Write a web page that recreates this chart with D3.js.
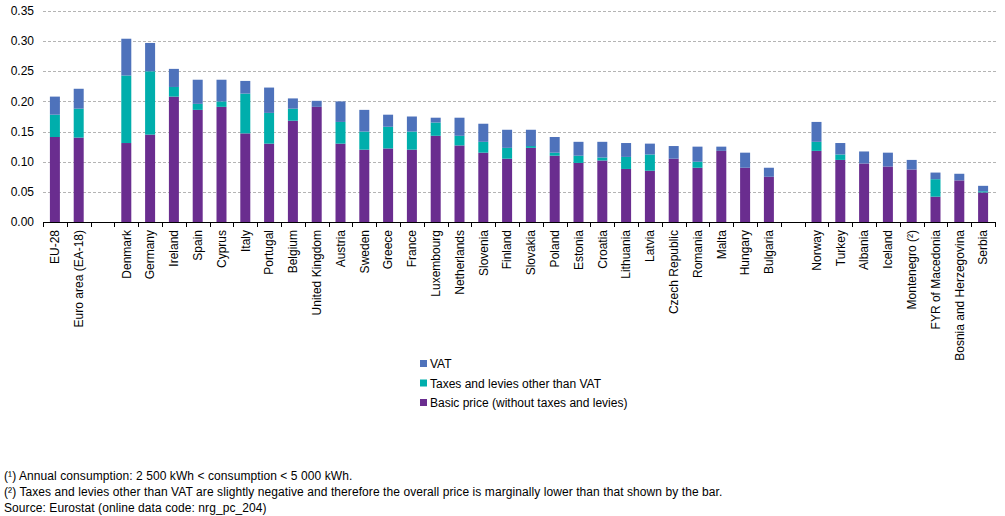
<!DOCTYPE html>
<html>
<head>
<meta charset="utf-8">
<script src="https://cdn.jsdelivr.net/npm/d3@7"></script>
<style>
  body { margin: 0; background: #fff; }
  text { font-family: "Liberation Sans", Arial, sans-serif; font-size: 12px; fill: #000; }
  .foot { letter-spacing: 0.08px; }
</style>
</head>
<body>
<svg id="chart" width="1005" height="516"></svg>
<script>
// countries, with null for the empty slots between groups
const countries = ["EU-28", "Euro area (EA-18)", null,
  "Denmark", "Germany", "Ireland", "Spain", "Cyprus", "Italy", "Portugal", "Belgium",
  "United Kingdom", "Austria", "Sweden", "Greece", "France", "Luxembourg", "Netherlands",
  "Slovenia", "Finland", "Slovakia", "Poland", "Estonia", "Croatia", "Lithuania", "Latvia",
  "Czech Republic", "Romania", "Malta", "Hungary", "Bulgaria", null,
  "Norway", "Turkey", "Albania", "Iceland", "Montenegro (\u00b2)", "FYR of Macedonia",
  "Bosnia and Herzegovina", "Serbia"];

const basicPrice = [0.141, 0.140, null,
  0.131, 0.145, 0.208, 0.186, 0.191, 0.147, 0.130, 0.168,
  0.191, 0.130, 0.120, 0.122, 0.120, 0.143, 0.127,
  0.115, 0.105, 0.123, 0.110, 0.098, 0.102, 0.088, 0.085,
  0.105, 0.090, 0.118, 0.090, 0.075, null,
  0.118, 0.103, 0.097, 0.092, 0.087, 0.042, 0.069, 0.049];

const otherTaxes = [0.037, 0.048, null,
  0.112, 0.105, 0.016, 0.010, 0.009, 0.066, 0.051, 0.020,
  0.000, 0.036, 0.030, 0.036, 0.030, 0.022, 0.016,
  0.018, 0.018, 0.003, 0.005, 0.012, 0.005, 0.020, 0.027,
  0.000, 0.010, 0.000, 0.000, 0.000, null,
  0.015, 0.009, 0.000, 0.000, 0.000, 0.029, 0.000, 0.002];

const vat = [0.030, 0.033, null,
  0.061, 0.047, 0.030, 0.040, 0.036, 0.021, 0.042, 0.017,
  0.010, 0.034, 0.036, 0.020, 0.025, 0.008, 0.030,
  0.030, 0.030, 0.027, 0.026, 0.023, 0.026, 0.023, 0.018,
  0.021, 0.025, 0.007, 0.025, 0.015, null,
  0.033, 0.019, 0.020, 0.023, 0.016, 0.011, 0.011, 0.009];

const yTicks = [0, 0.05, 0.10, 0.15, 0.20, 0.25, 0.30, 0.35];

const seriesNames = ["Basic price (without taxes and levies)", "Taxes and levies other than VAT", "VAT"];
const seriesColors = ["#6a2d8f", "#00aeac", "#4e72bb"];

const footnotes = [
  "(\u00b9) Annual consumption: 2 500 kWh < consumption < 5 000 kWh.",
  "(\u00b2) Taxes and levies other than VAT are slightly negative and therefore the overall price is marginally lower than that shown by the bar.",
  "Source: Eurostat (online data code: nrg_pc_204)"
];

let svg = d3.select("#chart");

let plotLeft = 43, plotRight = 995, plotTop = 11, plotBottom = 222;

let rows = countries.map(function(c, i) {
  return { idx: i, name: c, basic: basicPrice[i] || 0, taxes: otherTaxes[i] || 0, vat: vat[i] || 0 };
});

let x = d3.scaleBand()
  .domain(rows.map(function(d) { return d.idx; }))
  .range([plotLeft, plotRight])
  .paddingInner(0.58)
  .paddingOuter(0.29);

let y = d3.scaleLinear().domain([0, 0.35]).range([plotBottom, plotTop]);

//gridlines
svg.append("g").selectAll("line")
  .data(yTicks.filter(function(t) { return t > 0; }))
  .enter().append("line")
  .attr("x1", plotLeft).attr("x2", plotRight + 2)
  .attr("y1", function(d) { return Math.round(y(d)) + 0.5; })
  .attr("y2", function(d) { return Math.round(y(d)) + 0.5; })
  .attr("stroke", "#b4b4b4")
  .attr("stroke-dasharray", "3,2");

//y labels
svg.append("g").selectAll("text")
  .data(yTicks)
  .enter().append("text")
  .attr("x", 34)
  .attr("y", function(d) { return y(d); })
  .attr("dy", "0.35em")
  .attr("text-anchor", "end")
  .text(function(d) { return d3.format(".2f")(d); });

//stacked bars
let stack = d3.stack().keys(["basic", "taxes", "vat"]);
let layers = stack(rows.filter(function(d) { return d.name !== null; }));

svg.append("g").selectAll("g")
  .data(layers)
  .enter().append("g")
  .attr("fill", function(d, i) { return seriesColors[i]; })
  .selectAll("rect")
  .data(function(d) { return d; })
  .enter().append("rect")
  .attr("x", function(d) { return x(d.data.idx); })
  .attr("width", x.bandwidth())
  .attr("y", function(d) { return y(d[1]); })
  .attr("height", function(d) { return y(d[0]) - y(d[1]); });

//x axis line and ticks at slot boundaries
let step = x.step();
svg.append("line")
  .attr("x1", plotLeft).attr("x2", plotRight + 1)
  .attr("y1", plotBottom + 0.5).attr("y2", plotBottom + 0.5)
  .attr("stroke", "#000");

svg.append("g").selectAll("line")
  .data(d3.range(countries.length + 1))
  .enter().append("line")
  .attr("x1", function(k) { return Math.round(plotLeft + k * step) + 0.5; })
  .attr("x2", function(k) { return Math.round(plotLeft + k * step) + 0.5; })
  .attr("y1", plotBottom).attr("y2", plotBottom + 5)
  .attr("stroke", "#000");

//x labels, rotated
svg.append("g").selectAll("text")
  .data(rows.filter(function(d) { return d.name !== null; }))
  .enter().append("text")
  .attr("transform", function(d) {
    return "translate(" + (x(d.idx) + x.bandwidth() / 2) + "," + 230 + ") rotate(-90)";
  })
  .attr("dy", "0.35em")
  .attr("text-anchor", "end")
  .text(function(d) { return d.name; });

//legend, VAT first
let legendOrder = [2, 1, 0];
let legend = svg.append("g").selectAll("g")
  .data(legendOrder)
  .enter().append("g")
  .attr("transform", function(d, i) { return "translate(420," + (364 + i * 19.5) + ")"; });

legend.append("rect")
  .attr("x", 0).attr("y", -4)
  .attr("width", 7).attr("height", 7)
  .attr("fill", function(d) { return seriesColors[d]; });

legend.append("text")
  .attr("x", 10)
  .attr("dy", "0.35em")
  .text(function(d) { return seriesNames[d]; });

//footnotes
svg.append("g").selectAll("text")
  .data(footnotes)
  .enter().append("text")
  .attr("class", "foot")
  .attr("x", 4)
  .attr("y", function(d, i) { return 476 + i * 16; })
  .attr("dy", "0.35em")
  .text(function(d) { return d; });
</script>
</body>
</html>
